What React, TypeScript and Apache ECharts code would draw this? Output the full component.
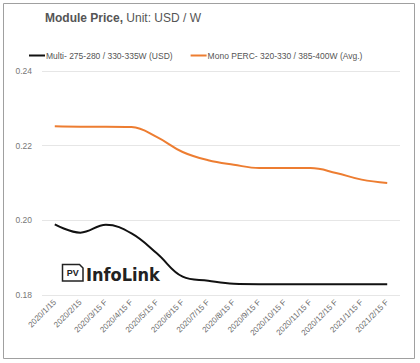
import React, { useEffect, useRef } from "react";
import * as echarts from "echarts";

const categories = [
  "2020/1/15", "2020/2/15", "2020/3/15 F", "2020/4/15 F", "2020/5/15 F", "2020/6/15 F", "2020/7/15 F",
  "2020/8/15 F", "2020/9/15 F", "2020/10/15 F", "2020/11/15 F", "2020/12/15 F", "2021/1/15 F", "2021/2/15 F",
];
const multiName = "Multi- 275-280 / 330-335W (USD)";
const monoName = "Mono PERC- 320-330 / 385-400W (Avg.)";
const multiValues = [0.1989, 0.1967, 0.1988, 0.1965, 0.1911, 0.1849, 0.1838, 0.183, 0.1829, 0.1829, 0.1829, 0.1829, 0.1829, 0.1829];
const monoValues = [0.2252, 0.2251, 0.2251, 0.225, 0.2223, 0.2183, 0.2161, 0.2149, 0.214, 0.214, 0.214, 0.2127, 0.2109, 0.21];
const yMin = 0.18;
const yMax = 0.24;
const yStep = 0.02;

export default function App() {
  const ref = useRef<HTMLDivElement>(null);
  useEffect(() => {
    if (!ref.current) return;
    const chart = echarts.init(ref.current, undefined, { renderer: "svg" });
    const font = "Liberation Sans, Arial, sans-serif";
    chart.setOption({
      animation: false,
      backgroundColor: "#ffffff",
      textStyle: { fontFamily: font },
      grid: { left: 42, right: 20, top: 71, bottom: 68, containLabel: false },
      legend: {
        left: 24,
        top: 46,
        itemWidth: 16,
        itemHeight: 2,
        itemGap: 18,
        icon: "rect",
        textStyle: { fontSize: 8.5, color: "#555", padding: [0, 0, 0, -4] },
        data: [multiName, monoName],
      },
      xAxis: {
        type: "category",
        data: categories,
        boundaryGap: true,
        axisLine: { show: false },
        axisTick: { show: false },
        axisLabel: { rotate: 45, fontSize: 8, color: "#6a6a6a", margin: 6, interval: 0 },
      },
      yAxis: {
        type: "value",
        min: yMin,
        max: yMax,
        interval: yStep,
        axisLine: { show: false },
        axisTick: { show: false },
        axisLabel: { fontSize: 8.5, color: "#777", margin: 10, formatter: (v: number) => v.toFixed(2) },
        splitLine: { lineStyle: { color: "#e6e6e6", width: 1 } },
      },
      series: [
        {
          name: multiName,
          type: "line",
          data: multiValues,
          smooth: 0.4,
          symbol: "none",
          itemStyle: { color: "#111111" },
          lineStyle: { color: "#111111", width: 2 },
          z: 3,
        },
        {
          name: monoName,
          type: "line",
          data: monoValues,
          smooth: 0.4,
          symbol: "none",
          itemStyle: { color: "#ED7D31" },
          lineStyle: { color: "#ED7D31", width: 2 },
          z: 3,
        },
      ],
      graphic: [
        {
          type: "rect",
          shape: { x: 3.5, y: 3.5, width: 411, height: 355 },
          style: { fill: "none", stroke: "#a0a0a0", lineWidth: 1 },
          silent: true,
        },
        {
          type: "text",
          left: 45,
          top: 12,
          style: {
            text: "{b|Module Price,} {n|Unit: USD / W}",
            rich: {
              b: { fontSize: 12, fontWeight: "bold", fill: "#555", fontFamily: font },
              n: { fontSize: 12, fill: "#555", fontFamily: font },
            },
          },
        },
        {
          type: "polygon",
          shape: { points: [[62.5, 264.5], [79.5, 264.5], [83, 268], [83, 281], [62.5, 281]] },
          style: { fill: "none", stroke: "#222", lineWidth: 1.5 },
          z: 10,
        },
        {
          type: "text",
          x: 72.8,
          y: 273,
          style: { text: "PV", fontSize: 9, fontWeight: "bold", fill: "#222", align: "center", verticalAlign: "middle", fontFamily: font },
          z: 10,
        },
        {
          type: "text",
          x: 86,
          y: 274,
          style: { text: "InfoLink", fontSize: 18, fontWeight: "bold", fill: "#222", align: "left", verticalAlign: "middle", fontFamily: "DejaVu Sans Condensed, DejaVu Sans, sans-serif" },
          z: 10,
        },
      ],
    });
    return () => chart.dispose();
  }, []);
  return (
    <div style={{ position: "fixed", left: 0, top: 0, width: 420, height: 363, background: "#fff" }}>
      <div ref={ref} style={{ width: 420, height: 363 }} />
    </div>
  );
}
